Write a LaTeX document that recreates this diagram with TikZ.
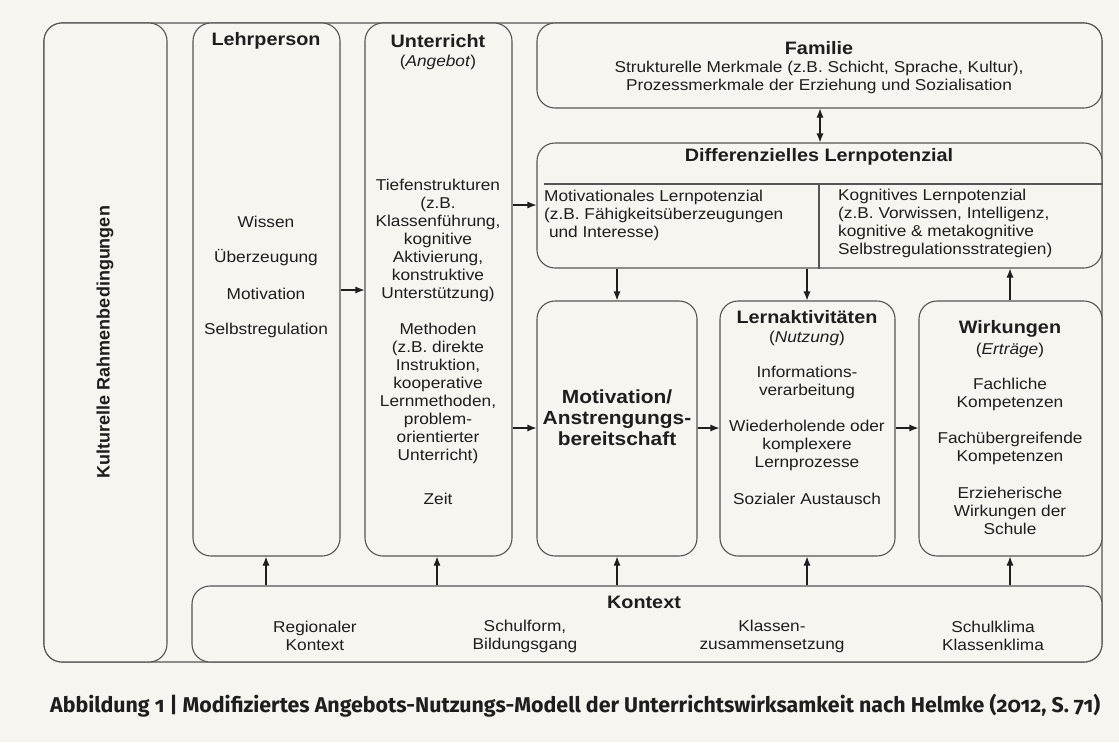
\documentclass[tikz,border=0pt]{standalone}
\usepackage{graphicx}
\usepackage{fontspec}
\setmainfont[FakeStretch=1.1]{Liberation Sans}
\newfontfamily\rotfont{Liberation Sans}
\newfontfamily\capfont[Numbers=OldStyle]{Fira Sans}
\usetikzlibrary{arrows.meta}
\definecolor{paper}{RGB}{246,245,239}
\definecolor{ink}{RGB}{30,30,30}
\definecolor{edge}{RGB}{85,85,85}
\tikzset{
  box/.style={draw=edge, line width=1.1pt, rounded corners=18pt, fill=paper, inner sep=0pt},
  txt/.style={text=ink, align=center, inner sep=0pt, font=\fontsize{15.7}{18}\selectfont},
  ltxt/.style={text=ink, align=left, inner sep=0pt, font=\fontsize{15.7}{18}\selectfont},
  ttl/.style={text=ink, align=center, inner sep=0pt, font=\fontsize{18}{21}\selectfont\bfseries},
  big/.style={text=ink, align=center, inner sep=0pt, font=\fontsize{19}{21}\selectfont\bfseries},
  arr/.style={draw=ink, line width=1.1pt, -{Latex[length=9pt,width=7pt]}},
  darr/.style={draw=ink, line width=1.1pt, {Latex[length=9pt,width=7pt]}-{Latex[length=9pt,width=7pt]}},
  thin/.style={draw=edge, line width=1.1pt},
}
\begin{document}
\begin{tikzpicture}[x=1pt,y=-1pt]
\fill[paper] (0,0) rectangle (1119,742);
\useasboundingbox (0,0) rectangle (1119,742);

% frame and boxes
\node[box, fill=none, minimum width=1058pt, minimum height=639pt] (frame) at (573,342.5) {};
\node[box, minimum width=123pt, minimum height=639pt] (kultur) at (105.5,342.5) {};
\node[box, minimum width=147pt, minimum height=533pt] (lehr) at (266.5,289.5) {};
\node[box, minimum width=147pt, minimum height=533pt] (unt) at (438.5,289.5) {};
\node[box, minimum width=565pt, minimum height=85pt] (fam) at (819.5,65.5) {};
\node[box, minimum width=565pt, minimum height=125pt] (diff) at (819.5,205.5) {};
\node[box, minimum width=160pt, minimum height=255pt] (moti) at (617,428.5) {};
\node[box, minimum width=175pt, minimum height=255pt] (lern) at (807.5,428.5) {};
\node[box, minimum width=183pt, minimum height=255pt] (wirk) at (1010.5,428.5) {};
\node[box, minimum width=910pt, minimum height=76pt] (kont) at (647,624) {};

% Kultur
\node[rotate=90, text=ink, inner sep=0pt, font=\rotfont\fontsize{18}{21}\selectfont\bfseries] (kulturt) at (105,342) {Kulturelle Rahmenbedingungen};

% Lehrperson
\node[ttl] (lehrt) at (266,41) {Lehrperson};
\node[txt] (l1) at (266,222) {Wissen};
\node[txt] (l2) at (266,258) {Überzeugung};
\node[txt] (l3) at (266,294) {Motivation};
\node[txt] (l4) at (266,330) {Selbstregulation};

% Unterricht
\node[ttl] (untt) at (438,41) {Unterricht};
\node[txt] (untb) at (438,62) {(\textit{Angebot})};
\node[txt] (u1) at (438,240) {Tiefenstrukturen\\(z.B.\\Klassenführung,\\kognitive\\Aktivierung,\\konstruktive\\Unterstützung)};
\node[txt] (u2) at (438,393) {Methoden\\(z.B. direkte\\Instruktion,\\kooperative\\Lernmethoden,\\problem-\\orientierter\\Unterricht)};
\node[txt] (u3) at (438,499) {Zeit};

% Familie
\node[ttl] (famt) at (819,48) {Familie};
\node[txt] (famx) at (819,77.5) {Strukturelle Merkmale (z.B. Schicht, Sprache, Kultur),\\Prozessmerkmale der Erziehung und Sozialisation};

% Differenzielles Lernpotenzial
\node[ttl] (difft) at (819,157) {Differenzielles Lernpotenzial};
\coordinate (hl) at (544,184);
\draw[thin] (hl) -- (hl -| diff.east);
\coordinate (dv) at (819,184);
\draw[thin] (dv) -- (dv |- diff.south);
\node[ltxt, anchor=west] (diffl) at (544,215) {Motivationales Lernpotenzial\\(z.B. Fähigkeitsüberzeugungen\\\ und Interesse)};
\node[ltxt, anchor=west] (diffr) at (838,223.5) {Kognitives Lernpotenzial\\(z.B. Vorwissen, Intelligenz,\\kognitive \& metakognitive\\Selbstregulationsstrategien)};

% Motivation
\node[big] (motit) at (617,418) {Motivation/\\Anstrengungs-\\bereitschaft};

% Lernaktivitaeten
\node[ttl] (lernt) at (807,317) {Lernaktivitäten};
\node[txt] (lernb) at (807,338) {(\textit{Nutzung})};
\node[txt] (le1) at (807,382) {Informations-\\verarbeitung};
\node[txt] (le2) at (807,445) {Wiederholende oder\\komplexere\\Lernprozesse};
\node[txt] (le3) at (807,499) {Sozialer Austausch};

% Wirkungen
\node[ttl] (wirkt) at (1010,329) {Wirkungen};
\node[txt] (wirkb) at (1010,350) {(\textit{Erträge})};
\node[txt] (w1) at (1010,394) {Fachliche\\Kompetenzen};
\node[txt] (w2) at (1010,448) {Fachübergreifende\\Kompetenzen};
\node[txt] (w3) at (1010,511) {Erzieherische\\Wirkungen der\\Schule};

% Kontext
\node[ttl] (kontt) at (644,602) {Kontext};
\node[txt] (k1) at (315,636) {Regionaler\\Kontext};
\node[txt] (k2) at (525,636) {Schulform,\\Bildungsgang};
\node[txt] (k3) at (772,636) {Klassen-\\zusammensetzung};
\node[txt] (k4) at (993,636) {Schulklima\\Klassenklima};

% horizontal arrows
\coordinate (yA) at (0,290);
\coordinate (yB) at (0,205);
\coordinate (yC) at (0,428);
\draw[arr] (lehr.east |- yA) -- (unt.west |- yA);
\draw[arr] (unt.east |- yB) -- (diff.west |- yB);
\draw[arr] (unt.east |- yC) -- (moti.west |- yC);
\draw[arr] (moti.east |- yC) -- (lern.west |- yC);
\draw[arr] (lern.east |- yC) -- (wirk.west |- yC);

% vertical arrows
\coordinate (xF) at (820,0);
\coordinate (xM) at (617,0);
\coordinate (xL) at (807,0);
\coordinate (xW) at (1010,0);
\coordinate (xP) at (266,0);
\coordinate (xU) at (437,0);
\draw[darr] (fam.south -| xF) -- (diff.north -| xF);
\draw[arr] (diff.south -| xM) -- (moti.north -| xM);
\draw[arr] (diff.south -| xL) -- (lern.north -| xL);
\draw[arr] (wirk.north -| xW) -- (diff.south -| xW);
\draw[arr] (kont.north -| xP) -- (lehr.south -| xP);
\draw[arr] (kont.north -| xU) -- (unt.south -| xU);
\draw[arr] (kont.north -| xM) -- (moti.south -| xM);
\draw[arr] (kont.north -| xL) -- (lern.south -| xL);
\draw[arr] (kont.north -| xW) -- (wirk.south -| xW);

% caption
\node[anchor=west, text=ink, inner sep=0pt] (cap) at (50,706) {\resizebox{1050pt}{!}{\capfont\fontsize{19}{22}\selectfont\bfseries Abbildung 1 | Modifiziertes Angebots-Nutzungs-Modell der Unterrichtswirksamkeit nach Helmke (2012, S. 71)}};
\end{tikzpicture}
\end{document}
